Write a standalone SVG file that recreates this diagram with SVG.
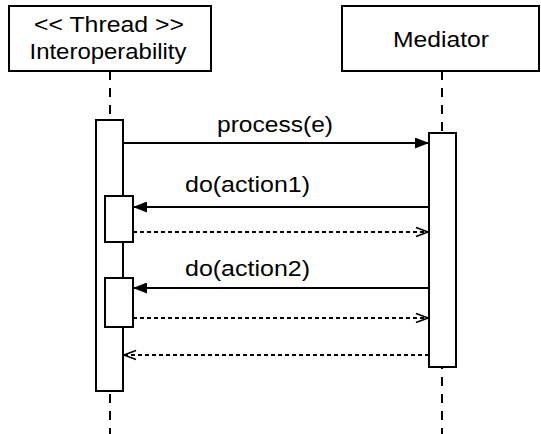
<svg xmlns="http://www.w3.org/2000/svg" width="541" height="434" viewBox="0 0 541 434">
<style>
.box{fill:#fff;stroke:#000;stroke-width:2}
.life{stroke:#000;stroke-width:2;stroke-dasharray:9 8;fill:none}
.msg{stroke:#000;stroke-width:1.8;fill:none}
.ret{stroke:#000;stroke-width:1.8;fill:none;stroke-dasharray:4 3}
text{font-family:"Liberation Sans",Arial,Helvetica,sans-serif;font-size:21.5px;fill:#000;text-anchor:middle}
</style>
<defs>
<marker id="filled" viewBox="0 0 14 11" refX="14" refY="5.5" markerWidth="14" markerHeight="11" markerUnits="userSpaceOnUse" orient="auto">
<path d="M0,0 L14,5.5 L0,11 Z" fill="#000"/>
</marker>
<marker id="open" viewBox="0 0 14 12" refX="13" refY="6" markerWidth="14" markerHeight="12" markerUnits="userSpaceOnUse" orient="auto">
<path d="M1,1.5 L13,6 L1,10.5" fill="none" stroke="#000" stroke-width="1.8"/>
</marker>
</defs>
<g id="lifelines">
<line class="life" x1="110" y1="71" x2="110" y2="434"/>
<line class="life" x1="442" y1="71" x2="442" y2="434"/>
</g>
<g id="thread">
<rect class="box" x="9" y="6" width="202" height="65"/>
<text x="109" y="32" textLength="150" lengthAdjust="spacingAndGlyphs">&lt;&lt; Thread &gt;&gt;</text>
<text x="108" y="59" textLength="157" lengthAdjust="spacingAndGlyphs">Interoperability</text>
</g>
<g id="mediator">
<rect class="box" x="342" y="6" width="197" height="65"/>
<text x="441" y="47" textLength="96" lengthAdjust="spacingAndGlyphs">Mediator</text>
</g>
<g id="activation-thread">
<rect class="box" x="96" y="120" width="27" height="271"/>
</g>
<g id="activation-mediator">
<rect class="box" x="429" y="133" width="27" height="234"/>
</g>
<g id="activation-action1">
<rect class="box" x="105" y="196" width="28" height="46"/>
</g>
<g id="activation-action2">
<rect class="box" x="105" y="278" width="28" height="49"/>
</g>
<g id="connectors">
<line class="msg" x1="123" y1="143" x2="429" y2="143" marker-end="url(#filled)"/>
<text x="275" y="132" textLength="116" lengthAdjust="spacingAndGlyphs">process(e)</text>
<line class="msg" x1="429" y1="207" x2="133" y2="207" marker-end="url(#filled)"/>
<text x="247.5" y="192" textLength="125" lengthAdjust="spacingAndGlyphs">do(action1)</text>
<line class="ret" x1="133" y1="232" x2="428" y2="232" marker-end="url(#open)"/>
<line class="msg" x1="429" y1="288" x2="133" y2="288" marker-end="url(#filled)"/>
<text x="247.5" y="276" textLength="125" lengthAdjust="spacingAndGlyphs">do(action2)</text>
<line class="ret" x1="133" y1="318" x2="428" y2="318" marker-end="url(#open)"/>
<line class="ret" x1="429" y1="355" x2="124" y2="355" marker-end="url(#open)"/>
</g>
</svg>
